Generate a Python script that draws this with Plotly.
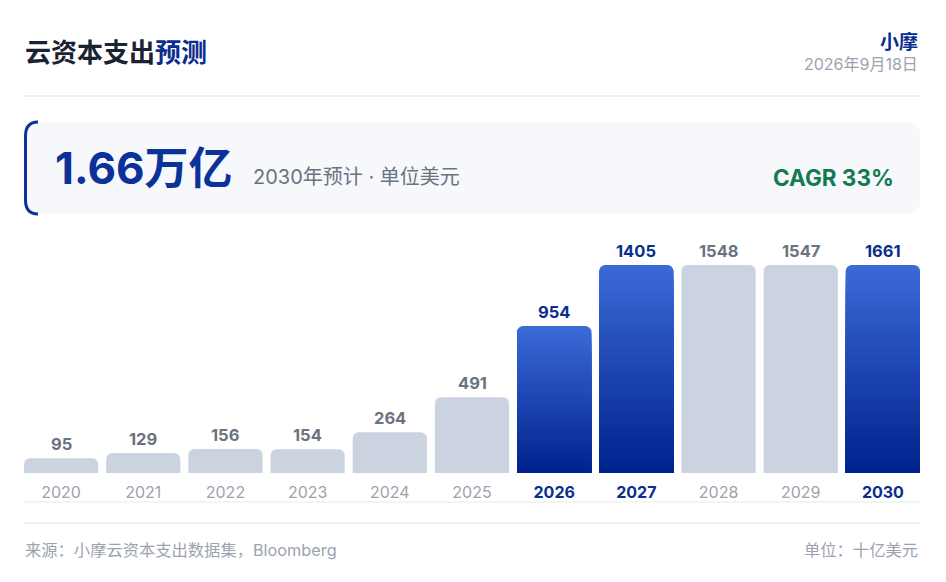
import plotly.graph_objects as go

# data
anos = ["2020", "2021", "2022", "2023", "2024", "2025", "2026", "2027", "2028", "2029", "2030"]
capex = [95, 129, 156, 154, 264, 491, 954, 1405, 1548, 1547, 1661]
destaque = ["2026", "2027", "2030"]

titulo = "云资本支出"
titulo_azul = "预测"
autor = "小摩"
data_pub = "2026年9月18日"
numero_grande = "1.66万亿"
subtitulo = "2030年预计 · 单位美元"
cagr = "CAGR 33%"
fonte = "来源：小摩云资本支出数据集，Bloomberg"
unidade = "单位：十亿美元"

W, H = 946, 582
ML, MR, MT, MB = 24, 26, 230, 109
TETO = 1350     # barras acima disso ficam cortadas na mesma altura
YMAX = 1577
GAP = 0.097

AZUL = "#0a2d8f"
CINZA_BARRA = "#cad3df"
FONTE = "Inter, 'Noto Sans CJK SC', sans-serif"
CJK = "'Noto Sans CJK SC', Inter, sans-serif"

alturas = [min(v, TETO) for v in capex]
eh_dest = [a in destaque for a in anos]


def px_x(p):
    return (p - ML) / (W - ML - MR)


def px_y(p):
    return (H - MB - p) / (H - MT - MB)


def mistura(c1, c2, t):
    a = [int(c1[i:i + 2], 16) for i in (1, 3, 5)]
    b = [int(c2[i:i + 2], 16) for i in (1, 3, 5)]
    return "#%02x%02x%02x" % tuple(round(a[i] + (b[i] - a[i]) * t) for i in range(3))


fig = go.Figure()

# barras cinza
fig.add_trace(go.Bar(
    x=anos, y=[h if not d else None for h, d in zip(alturas, eh_dest)],
    marker=dict(color=CINZA_BARRA, cornerradius=6, line_width=0),
    hoverinfo="skip",
))

# barras em destaque: degradê feito com camadas sobrepostas
N = 40
topo, base = "#3b6ad6", "#00228e"
for k in range(N):
    frac = 1 - k / N
    fig.add_trace(go.Bar(
        x=anos, y=[h * frac if d else None for h, d in zip(alturas, eh_dest)],
        marker=dict(color=mistura(topo, base, k / (N - 1)),
                    cornerradius=6 if k == 0 else 0, line_width=0),
        hoverinfo="skip",
    ))

# rótulos de valor (x pelo índice da categoria)
for i, (v, h, d) in enumerate(zip(capex, alturas, eh_dest)):
    fig.add_annotation(x=i, y=h, text="<b>%d</b>" % v, showarrow=False,
                       yanchor="bottom", yshift=2,
                       font=dict(size=16.5, color=AZUL if d else "#6b7280", family=FONTE))

fig.update_xaxes(type="category", categoryorder="array", categoryarray=anos,
                 range=[-0.5 + GAP / 2, len(anos) - 0.5 - GAP / 2], tickvals=anos,
                 ticktext=["<b><span style='color:%s'>%s</span></b>" % (AZUL, a) if d else a
                           for a, d in zip(anos, eh_dest)],
                 showgrid=False, zeroline=False, showline=False, ticks="",
                 ticklabelstandoff=8,
                 tickfont=dict(size=16, color="#9ca3af", family=FONTE))
fig.update_yaxes(range=[0, YMAX], visible=False)

# cabeçalho
fig.add_annotation(xref="paper", yref="paper", x=px_x(23), y=px_y(50),
                   xanchor="left", yanchor="middle", showarrow=False,
                   text="<b>%s<span style='color:%s'>%s</span></b>" % (titulo, AZUL, titulo_azul),
                   font=dict(size=26, color="#1b2333", family=CJK))
fig.add_annotation(xref="paper", yref="paper", x=px_x(920), y=px_y(40),
                   xanchor="right", yanchor="middle", showarrow=False,
                   text="<b>%s</b>" % autor, font=dict(size=19, color=AZUL, family=CJK))
fig.add_annotation(xref="paper", yref="paper", x=px_x(920), y=px_y(64),
                   xanchor="right", yanchor="middle", showarrow=False,
                   text=data_pub, font=dict(size=16, color="#9ca3af", family=FONTE))

# cartão de destaque
x0, x1 = px_x(24), px_x(920)
y0, y1 = px_y(214), px_y(122)
rx, ry = px_x(24 + 14) - px_x(24), px_y(122) - px_y(122 + 14)
card = (f"M {x0 + rx} {y1} L {x1 - rx} {y1} Q {x1} {y1} {x1} {y1 - ry} "
        f"L {x1} {y0 + ry} Q {x1} {y0} {x1 - rx} {y0} L {x0 + rx} {y0} "
        f"Q {x0} {y0} {x0} {y0 + ry} L {x0} {y1 - ry} Q {x0} {y1} {x0 + rx} {y1} Z")
fig.add_shape(type="path", xref="paper", yref="paper", path=card,
              fillcolor="#f6f8fc", line_width=0, layer="below")
bx = px_x(25.5)
borda = (f"M {x0 + rx} {y1} Q {bx} {y1} {bx} {y1 - ry} L {bx} {y0 + ry} "
         f"Q {bx} {y0} {x0 + rx} {y0}")
fig.add_shape(type="path", xref="paper", yref="paper", path=borda,
              line=dict(color="#0a3299", width=3))

fig.add_annotation(xref="paper", yref="paper", x=px_x(53), y=px_y(168),
                   xanchor="left", yanchor="middle", showarrow=False,
                   text="<b>%s</b>" % numero_grande,
                   font=dict(size=44, color="#0a3299", family=FONTE))
fig.add_annotation(xref="paper", yref="paper", x=px_x(251), y=px_y(177),
                   xanchor="left", yanchor="middle", showarrow=False,
                   text=subtitulo, font=dict(size=20, color="#6b7280", family=FONTE))
fig.add_annotation(xref="paper", yref="paper", x=px_x(896), y=px_y(177),
                   xanchor="right", yanchor="middle", showarrow=False,
                   text="<b>%s</b>" % cagr, font=dict(size=22.5, color="#127a50", family=FONTE))

# linhas divisórias
for py, cor in [(96, "#e6e8ec"), (502, "#eef0f3"), (523, "#eceef1")]:
    fig.add_shape(type="line", xref="paper", yref="paper",
                  x0=px_x(24), x1=px_x(920), y0=px_y(py), y1=px_y(py),
                  line=dict(color=cor, width=1.5))

# rodapé
fig.add_annotation(xref="paper", yref="paper", x=px_x(23), y=px_y(550),
                   xanchor="left", yanchor="middle", showarrow=False,
                   text=fonte, font=dict(size=16.3, color="#9ca3af", family=FONTE))
fig.add_annotation(xref="paper", yref="paper", x=px_x(920), y=px_y(550),
                   xanchor="right", yanchor="middle", showarrow=False,
                   text=unidade, font=dict(size=16.3, color="#9ca3af", family=FONTE))

fig.update_layout(
    width=W, height=H, barmode="overlay", bargap=GAP, showlegend=False,
    margin=dict(l=ML, r=MR, t=MT, b=MB),
    plot_bgcolor="white", paper_bgcolor="white",
    font=dict(family=FONTE),
)

fig.write_html("out.html", config={"displayModeBar": False},
               post_script="document.body.style.margin='0';")
